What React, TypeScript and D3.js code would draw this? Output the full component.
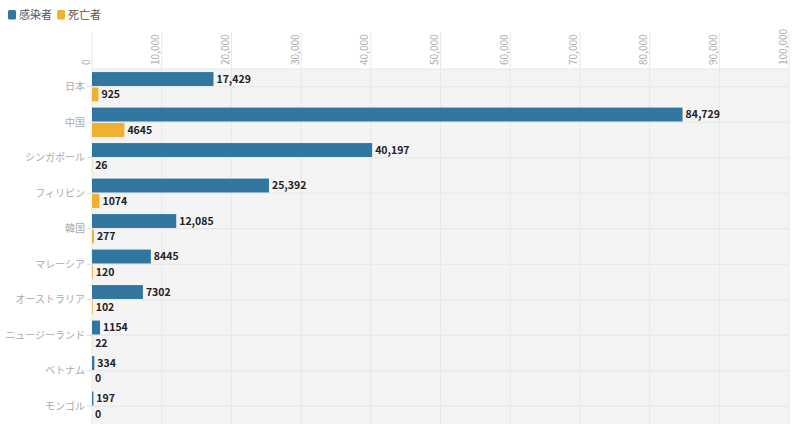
import React, { useEffect } from 'react';
import * as d3 from 'd3';

const categories = ['日本', '中国', 'シンガポール', 'フィリピン', '韓国', 'マレーシア', 'オーストラリア', 'ニュージーランド', 'ベトナム', 'モンゴル'];
const infected = [17429, 84729, 40197, 25392, 12085, 8445, 7302, 1154, 334, 197];
const deaths = [925, 4645, 26, 1074, 277, 120, 102, 22, 0, 0];
const seriesNames = ['感染者', '死亡者'];
const seriesColors = ['#31769f', '#efb12f'];
const xTicks = [0, 10000, 20000, 30000, 40000, 50000, 60000, 70000, 80000, 90000, 100000];

const FONT = '"Noto Sans CJK JP", "Noto Sans", sans-serif';

const W = 800;
const H = 437;
const margin = { top: 69, right: 11, bottom: 13, left: 92 };

const fmtValue = (v: number) => (v >= 10000 ? d3.format(',')(v) : String(v));

const App: React.FC = () => {
    useEffect(() => {
        document.body.style.margin = '0';
    }, []);

    const x = d3.scaleLinear()
        .domain([0, 100000])
        .range([margin.left, W - margin.right]);

    const y0 = d3.scaleBand<string>()
        .domain(categories)
        .range([margin.top, H - margin.bottom])
        .padding(0);

    const y1 = d3.scaleBand<string>()
        .domain(seriesNames)
        .range([0, y0.bandwidth()])
        .paddingInner(0.1)
        .paddingOuter(0.2);

    const rows = categories.map((c, i) => ({ c, values: [infected[i], deaths[i]] }));
    const plotTop = margin.top;
    const plotBottom = H - margin.bottom;

    return (
        <svg width={W} height={H} style={{ display: 'block', fontFamily: FONT }}>
            {/* legend */}
            {seriesNames.map((s, i) => {
                const lx = i === 0 ? 8 : 57;
                return (
                    <g key={s} transform={`translate(${lx},0)`}>
                        <rect x={0} y={10} width={8} height={9.5} rx={1.5} fill={seriesColors[i]} />
                        <text x={11} y={15} dy="0.35em" fontSize={11} fill="#555">{s}</text>
                    </g>
                );
            })}

            {/* plot background */}
            <rect x={margin.left} y={plotTop} width={W - margin.right - margin.left} height={plotBottom - plotTop} fill="#f4f4f4" />
            <line x1={margin.left} x2={W - margin.right} y1={plotTop} y2={plotTop} stroke="#e6e6e6" />

            {/* vertical grid + tick labels */}
            {xTicks.map(t => (
                <g key={t}>
                    <line x1={x(t)} x2={x(t)} y1={32} y2={plotBottom} stroke="#e8e8e8" strokeWidth={1} />
                    <text
                        transform={`translate(${x(t) - 2.5},${plotTop - 4}) rotate(-90)`}
                        fontSize={10}
                        fill="#aaa"
                        textAnchor="start"
                    >
                        {d3.format(',')(t)}
                    </text>
                </g>
            ))}

            {/* category gridlines, ticks and labels */}
            {categories.map(c => {
                const cy = (y0(c) ?? 0) + y0.bandwidth() / 2;
                return (
                    <g key={c}>
                        <line x1={margin.left} x2={W - margin.right} y1={cy} y2={cy} stroke="#e6e6e6" />
                        <line x1={margin.left - 5} x2={margin.left} y1={cy} y2={cy} stroke="#ddd" />
                        <text x={margin.left - 7} y={cy} dy="0.35em" textAnchor="end" fontSize={10} fill="#aaa">{c}</text>
                    </g>
                );
            })}

            {/* bars */}
            {rows.map(r => (
                <g key={r.c} transform={`translate(0,${y0(r.c)})`}>
                    {r.values.map((v, i) => {
                        const by = y1(seriesNames[i]) ?? 0;
                        const bw = x(v) - x(0);
                        return (
                            <g key={i}>
                                <rect x={x(0)} y={by} width={bw} height={y1.bandwidth()} fill={seriesColors[i]} />
                                <text
                                    x={x(v) + 3}
                                    y={by + y1.bandwidth() / 2}
                                    dy="0.36em"
                                    fontSize={10.5}
                                    fontWeight="bold"
                                    fill="#222"
                                >
                                    {fmtValue(v)}
                                </text>
                            </g>
                        );
                    })}
                </g>
            ))}
        </svg>
    );
};

export default App;
